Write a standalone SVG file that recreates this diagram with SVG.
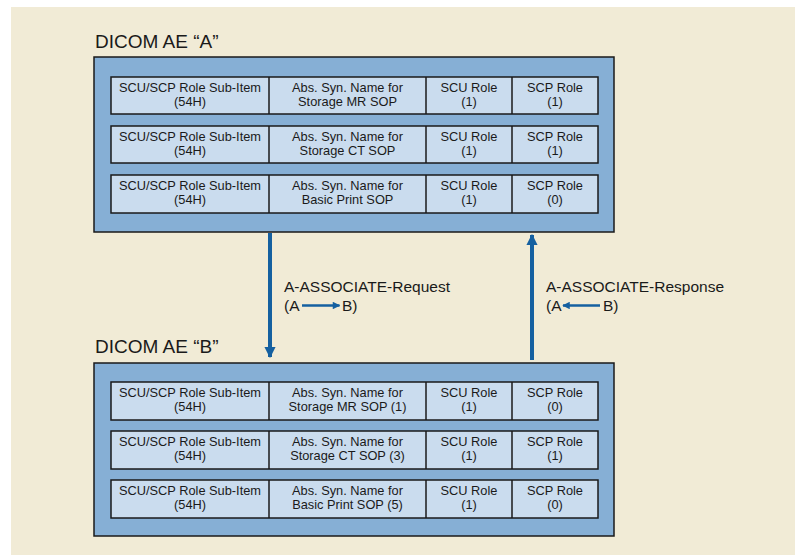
<svg xmlns="http://www.w3.org/2000/svg" width="795" height="555" viewBox="0 0 795 555">
<style>
.bg{fill:#F1EBD6}
.outer{fill:#86AFD5;stroke:#1a1a1a;stroke-width:1.5}
.cell{fill:#CADCEE;stroke:#1a1a1a;stroke-width:1.5}
.div{stroke:#1a1a1a;stroke-width:1.5}
text{font-family:"Liberation Sans",Arial,sans-serif;fill:#1a1a1a}
.t{font-size:12.8px;text-anchor:middle}
.title{font-size:19px}
.lbl{font-size:15.5px}
.arr{stroke:#1560A0;stroke-width:4;fill:none}
.sarr{stroke:#1560A0;stroke-width:2.5;fill:none}
</style>
<defs>
<marker id="ah" viewBox="0 0 10 10" refX="9" refY="5" markerWidth="2.8" markerHeight="3" orient="auto" markerUnits="strokeWidth">
<path d="M0,0 L10,5 L0,10 z" fill="#1560A0"/>
</marker>
<marker id="ahs" viewBox="0 0 10 10" refX="9" refY="5" markerWidth="3.6" markerHeight="3" orient="auto" markerUnits="strokeWidth">
<path d="M0,0 L10,5 L0,10 z" fill="#1560A0"/>
</marker>
</defs>
<rect class="bg" x="11" y="7" width="784" height="548"/>

<g id="aeA">
<text class="title" x="95" y="48">DICOM AE “A”</text>
<rect class="outer" x="94" y="57" width="520" height="175"/>
<g id="aeA-row1">
<rect class="cell" x="111" y="77" width="487" height="37"/>
<line class="div" x1="269" y1="77" x2="269" y2="114"/>
<line class="div" x1="426" y1="77" x2="426" y2="114"/>
<line class="div" x1="512" y1="77" x2="512" y2="114"/>
<text class="t" x="190" y="92">SCU/SCP Role Sub-Item</text><text class="t" x="190" y="106">(54H)</text>
<text class="t" x="347.5" y="92">Abs. Syn. Name for</text><text class="t" x="347.5" y="106">Storage MR SOP</text>
<text class="t" x="469" y="92">SCU Role</text><text class="t" x="469" y="106">(1)</text>
<text class="t" x="555" y="92">SCP Role</text><text class="t" x="555" y="106">(1)</text>
</g>
<g id="aeA-row2">
<rect class="cell" x="111" y="126" width="487" height="37"/>
<line class="div" x1="269" y1="126" x2="269" y2="163"/>
<line class="div" x1="426" y1="126" x2="426" y2="163"/>
<line class="div" x1="512" y1="126" x2="512" y2="163"/>
<text class="t" x="190" y="141">SCU/SCP Role Sub-Item</text><text class="t" x="190" y="155">(54H)</text>
<text class="t" x="347.5" y="141">Abs. Syn. Name for</text><text class="t" x="347.5" y="155">Storage CT SOP</text>
<text class="t" x="469" y="141">SCU Role</text><text class="t" x="469" y="155">(1)</text>
<text class="t" x="555" y="141">SCP Role</text><text class="t" x="555" y="155">(1)</text>
</g>
<g id="aeA-row3">
<rect class="cell" x="111" y="175" width="487" height="38"/>
<line class="div" x1="269" y1="175" x2="269" y2="213"/>
<line class="div" x1="426" y1="175" x2="426" y2="213"/>
<line class="div" x1="512" y1="175" x2="512" y2="213"/>
<text class="t" x="190" y="190">SCU/SCP Role Sub-Item</text><text class="t" x="190" y="204">(54H)</text>
<text class="t" x="347.5" y="190">Abs. Syn. Name for</text><text class="t" x="347.5" y="204">Basic Print SOP</text>
<text class="t" x="469" y="190">SCU Role</text><text class="t" x="469" y="204">(1)</text>
<text class="t" x="555" y="190">SCP Role</text><text class="t" x="555" y="204">(0)</text>
</g>
</g>

<g id="aeB">
<text class="title" x="95" y="353">DICOM AE “B”</text>
<rect class="outer" x="94" y="363" width="520" height="173"/>
<g id="aeB-row1">
<rect class="cell" x="111" y="382" width="487" height="38"/>
<line class="div" x1="269" y1="382" x2="269" y2="420"/>
<line class="div" x1="426" y1="382" x2="426" y2="420"/>
<line class="div" x1="512" y1="382" x2="512" y2="420"/>
<text class="t" x="190" y="397">SCU/SCP Role Sub-Item</text><text class="t" x="190" y="411">(54H)</text>
<text class="t" x="347.5" y="397">Abs. Syn. Name for</text><text class="t" x="347.5" y="411">Storage MR SOP (1)</text>
<text class="t" x="469" y="397">SCU Role</text><text class="t" x="469" y="411">(1)</text>
<text class="t" x="555" y="397">SCP Role</text><text class="t" x="555" y="411">(0)</text>
</g>
<g id="aeB-row2">
<rect class="cell" x="111" y="431" width="487" height="38"/>
<line class="div" x1="269" y1="431" x2="269" y2="469"/>
<line class="div" x1="426" y1="431" x2="426" y2="469"/>
<line class="div" x1="512" y1="431" x2="512" y2="469"/>
<text class="t" x="190" y="446">SCU/SCP Role Sub-Item</text><text class="t" x="190" y="460">(54H)</text>
<text class="t" x="347.5" y="446">Abs. Syn. Name for</text><text class="t" x="347.5" y="460">Storage CT SOP (3)</text>
<text class="t" x="469" y="446">SCU Role</text><text class="t" x="469" y="460">(1)</text>
<text class="t" x="555" y="446">SCP Role</text><text class="t" x="555" y="460">(1)</text>
</g>
<g id="aeB-row3">
<rect class="cell" x="111" y="480" width="487" height="38"/>
<line class="div" x1="269" y1="480" x2="269" y2="518"/>
<line class="div" x1="426" y1="480" x2="426" y2="518"/>
<line class="div" x1="512" y1="480" x2="512" y2="518"/>
<text class="t" x="190" y="495">SCU/SCP Role Sub-Item</text><text class="t" x="190" y="509">(54H)</text>
<text class="t" x="347.5" y="495">Abs. Syn. Name for</text><text class="t" x="347.5" y="509">Basic Print SOP (5)</text>
<text class="t" x="469" y="495">SCU Role</text><text class="t" x="469" y="509">(1)</text>
<text class="t" x="555" y="495">SCP Role</text><text class="t" x="555" y="509">(0)</text>
</g>
</g>

<g id="connectors">
<line class="arr" x1="270" y1="233" x2="270" y2="357" marker-end="url(#ah)"/>
<line class="arr" x1="532" y1="360" x2="532" y2="235" marker-end="url(#ah)"/>
<text class="lbl" x="284" y="292">A-ASSOCIATE-Request</text>
<text class="lbl" x="284" y="311">(A</text>
<line class="sarr" x1="302" y1="305.5" x2="339.5" y2="305.5" marker-end="url(#ahs)"/>
<text class="lbl" x="342" y="311">B)</text>
<text class="lbl" x="546" y="292">A-ASSOCIATE-Response</text>
<text class="lbl" x="546" y="311">(A</text>
<line class="sarr" x1="600" y1="305.5" x2="563" y2="305.5" marker-end="url(#ahs)"/>
<text class="lbl" x="603" y="311">B)</text>
</g>
</svg>
